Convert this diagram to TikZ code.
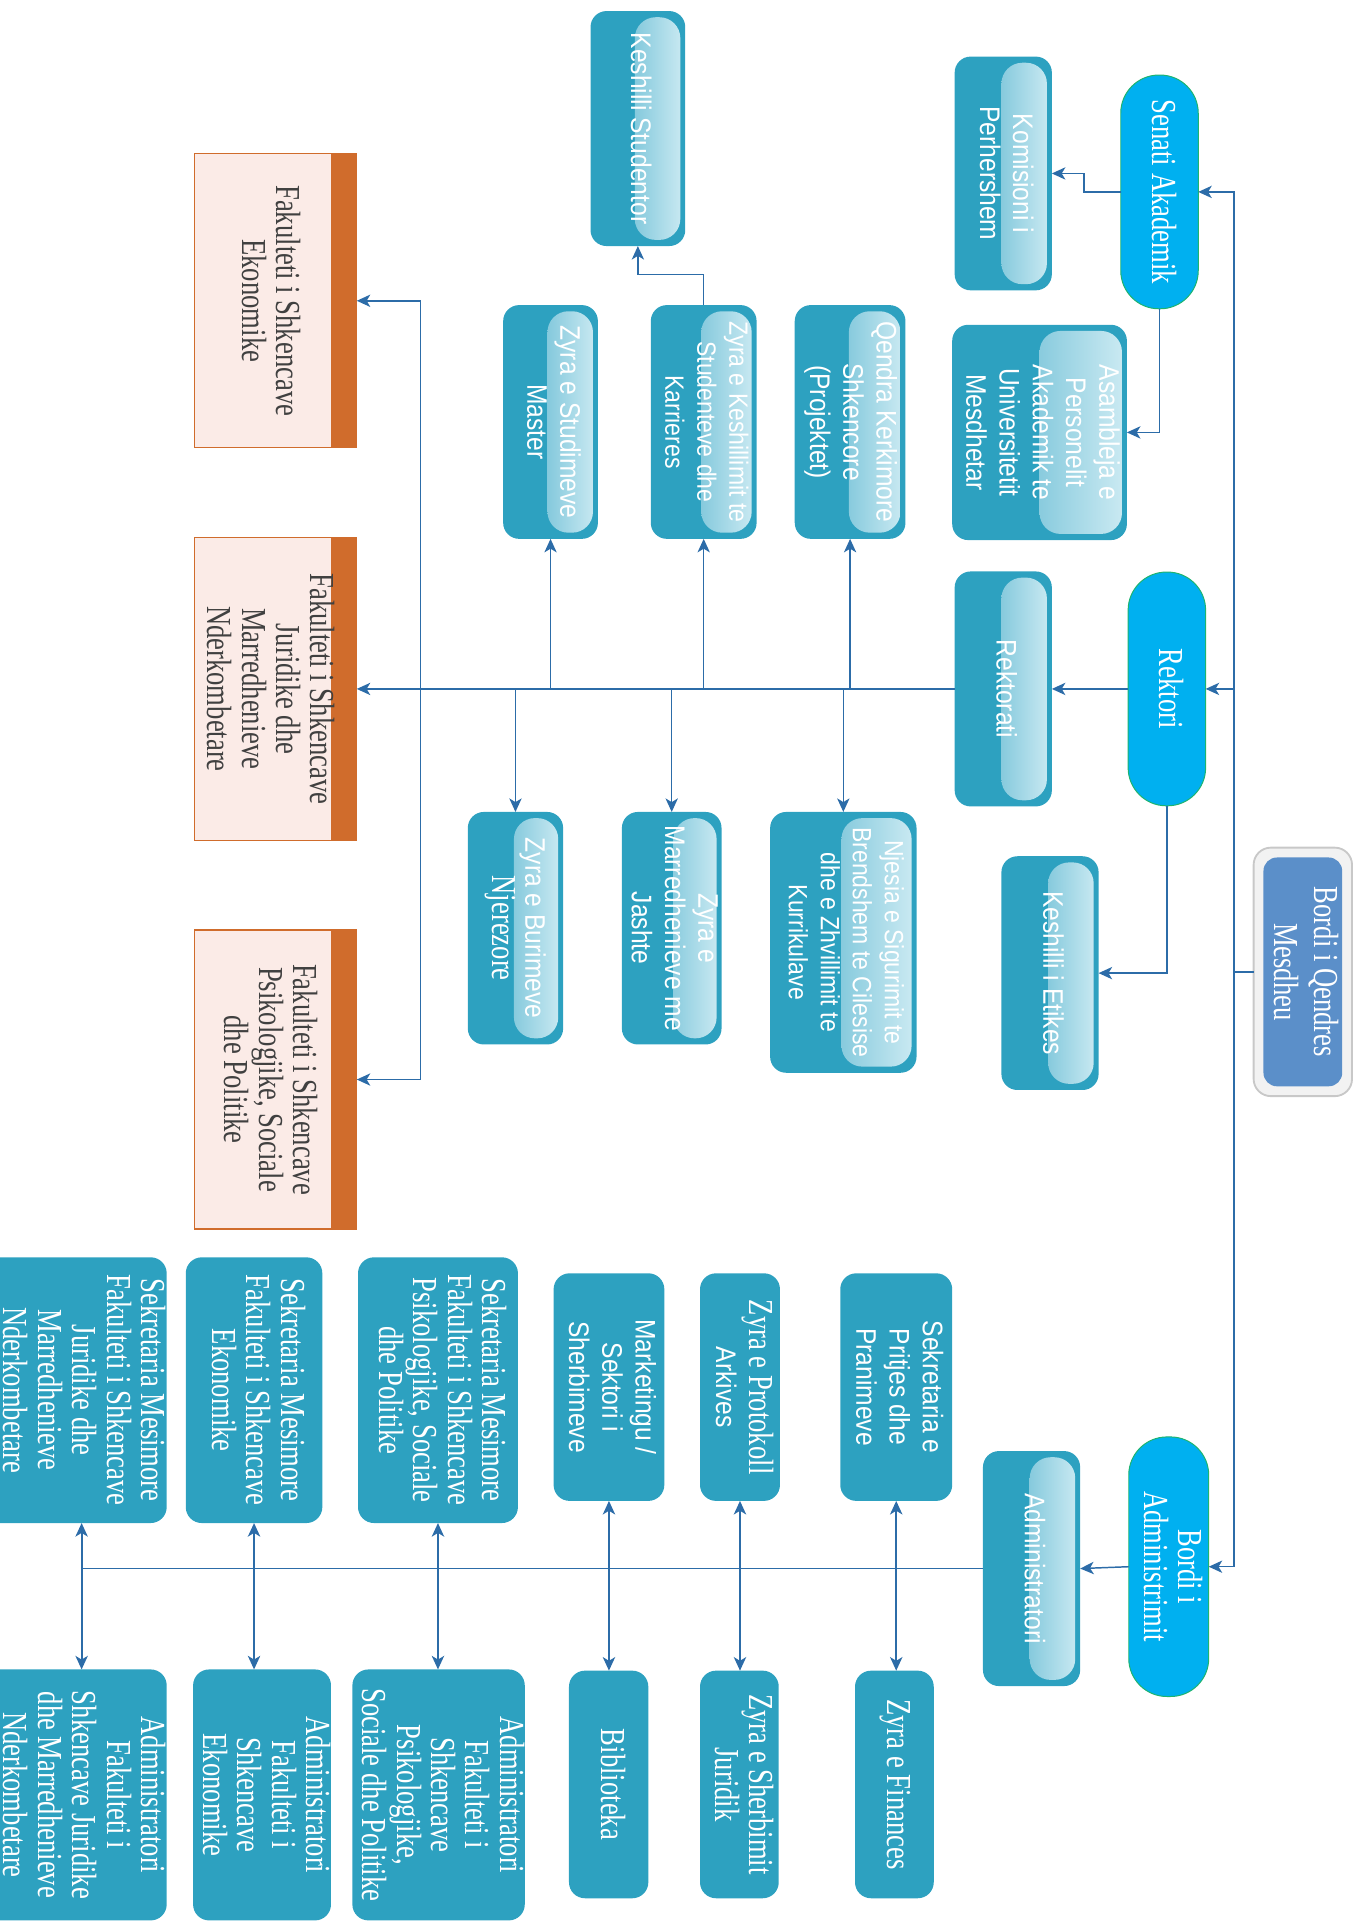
\documentclass[tikz,border=0pt]{standalone}
\usepackage{fontspec}
\usepackage{graphicx}
\usetikzlibrary{arrows.meta,calc}
\newfontfamily\serifc{Liberation Serif}[FakeStretch=0.76]
\newfontfamily\sansc{Liberation Sans}[FakeStretch=0.87]
\newcommand\sfnt{\sansc\fontsize{23}{27}\selectfont}
\newcommand\sfsm{\sansc\fontsize{21.5}{26}\selectfont}
\newcommand\rmfnt{\serifc\fontsize{28.5}{27.5}\selectfont}
\newcommand\vt[1]{\rotatebox{-90}{\begin{tabular}{@{}c@{}}#1\end{tabular}}}
\definecolor{teal1}{RGB}{45,161,192}
\definecolor{pillL}{RGB}{70,172,201}
\definecolor{pillR}{RGB}{205,235,243}
\definecolor{cyanp}{RGB}{0,176,240}
\definecolor{greenb}{RGB}{30,180,110}
\definecolor{conn}{RGB}{44,108,168}
\definecolor{pinkf}{RGB}{251,235,231}
\definecolor{orangeb}{RGB}{208,108,44}
\definecolor{txtgray}{RGB}{64,64,64}
\definecolor{bqblue}{RGB}{91,143,201}
\definecolor{bqgray}{RGB}{242,242,242}
\definecolor{bqline}{RGB}{200,200,200}
\tikzset{
  base/.style={inner sep=0pt, outer sep=0pt},
  sz/.style 2 args={minimum width=#1pt, minimum height=#2pt},
  tbox/.style={base, fill=teal1, rounded corners=13pt, text=white, font=\sfnt},
  rbox/.style={tbox, font=\rmfnt},
  pbox/.style={tbox, path picture={
      \shade[left color=pillL, right color=pillR, rounded corners=17pt]
        ([xshift={-(4+#1)*1pt}, yshift=-5pt]path picture bounding box.north east)
        rectangle ([xshift=-4pt, yshift=5pt]path picture bounding box.south east);}},
  cpill/.style={base, fill=cyanp, draw=greenb, line width=0.8pt, rounded corners=31pt,
      text=white, font=\rmfnt},
  bqbox/.style={base, fill=bqgray, draw=bqline, line width=1.5pt, rounded corners=14pt,
      text=white, font=\serifc\fontsize{28.5}{32.5}\selectfont,
      path picture={\fill[bqblue, rounded corners=11pt]
        ([shift={(8pt,-8pt)}]path picture bounding box.north west)
        rectangle ([shift={(-8pt,8pt)}]path picture bounding box.south east);}},
  facbox/.style={base, fill=pinkf, draw=orangeb, line width=1pt, text=txtgray, font=\rmfnt,
      path picture={\fill[orangeb]
        ([xshift=-21pt]path picture bounding box.north east)
        rectangle (path picture bounding box.south east);}},
  ln/.style={draw=conn, line width=1.1pt},
  arr/.style={draw=conn, line width=1.2pt, -{Stealth[length=11pt,width=10pt,inset=3pt]}},
  dbl/.style={draw=conn, line width=1.7pt,
      {Stealth[length=11pt,width=10pt,inset=3pt]}-{Stealth[length=11pt,width=10pt,inset=3pt]}}
}
\begin{document}
\begin{tikzpicture}[x=1pt, y=-1pt]
\useasboundingbox (0,0) rectangle (1103,1568);
\clip (0,0) rectangle (1103,1568);

% top level
\node[bqbox, sz={80}{202}] (bq) at (1059,790) {\vt{Bordi i Qendres\\Mesdheu}};
\node[cpill, sz={63}{190}] (senati) at (942.5,156) {\vt{Senati Akademik}};
\node[cpill, sz={63}{190}] (rektori) at (948.5,560) {\vt{Rektori}};
\node[cpill, sz={65}{211}] (bordiadm) at (950,1273.5) {\vt{Bordi i\\Administrimit}};

% senate branch
\node[pbox=37, sz={79}{190}] (komisioni) at (815.5,141) {\vt{Komisioni i\\Perhershem}};
\node[pbox=67, sz={142}{175}] (asambleja) at (845,351.5) {\vt{Asambleja e\\Personelit\\Akademik te\\Universitetit\\Mesdhetar}};

% rector branch
\node[pbox=37, sz={79}{191}] (rektorati) at (815.5,560) {\vt{Rektorati}};
\node[pbox=37, sz={79}{190}] (etikes) at (853.5,791) {\vt{Keshilli i Etikes}};
\node[pbox=37, sz={77}{191}] (studentor) at (518.5,104.5) {\vt{Keshilli Studentor}};
\node[pbox=37, sz={77}{190}] (master) at (447.5,343) {\vt{Zyra e Studimeve\\Master}};
\node[pbox=41, sz={86}{190}, font=\sfsm] (keshillimit) at (572,343) {\vt{Zyra e Keshillimit te\\Studenteve dhe\\Karrieres}};
\node[pbox=42, sz={90}{190}] (qendra) at (691,343) {\vt{Qendra Kerkimore\\Shkencore\\(Projektet)}};
\node[pbox=36, sz={77.5}{189}] (burimeve) at (419,754.5) {\vt{Zyra e Burimeve\\{\rmfnt Njerezore}}};
\node[pbox=35, sz={78}{189}] (marredh) at (546,754.5) {\vt{Zyra e\\Marredhenieve me\\Jashte}};
\node[pbox=57, sz={119}{212}, font=\sfsm] (njesia) at (685.5,766) {\vt{Njesia e Sigurimit te\\Brendshem te Cilesise\\dhe e Zhvillimit te\\Kurrikulave}};

% faculties
\node[facbox, sz={132}{239}] (fakeko) at (224,244.5) {\vt{Fakulteti i Shkencave\\Ekonomike}\rule{15pt}{0pt}};
\node[facbox, sz={132}{246}] (fakjur) at (224,560) {\vt{Fakulteti i Shkencave\\Juridike dhe\\Marredhenieve\\Nderkombetare}\rule{15pt}{0pt}};
\node[facbox, sz={132}{243}] (fakpsi) at (224,877.5) {\vt{Fakulteti i Shkencave\\Psikologjike, Sociale\\dhe Politike}\rule{15pt}{0pt}};

% administration branch
\node[pbox=37, sz={79}{191}] (administratori) at (838.5,1275) {\vt{Administratori}};
\node[tbox, sz={91}{185}] (sekpritjes) at (728.5,1127.5) {\vt{Sekretaria e\\Pritjes dhe\\Pranimeve}};
\node[tbox, sz={65}{185}] (protokoll) at (601.5,1127.5) {\vt{{\rmfnt Zyra e Protokoll}\\Arkives}};
\node[tbox, sz={90}{185}] (marketingu) at (495,1127.5) {\vt{Marketingu /\\Sektori i\\Sherbimeve}};
\node[rbox, sz={130}{216}] (sekmespsi) at (356,1130) {\vt{Sekretaria Mesimore\\Fakulteti i Shkencave\\Psikologjike, Sociale\\dhe Politike}};
\node[rbox, sz={111}{216}] (sekmeseko) at (206.5,1130) {\vt{Sekretaria Mesimore\\Fakulteti i Shkencave\\Ekonomike}};
\node[rbox, sz={149.5}{216}] (sekmesjur) at (60.75,1130) {\hspace{8pt}\vt{Sekretaria Mesimore\\Fakulteti i Shkencave\\Juridike dhe\\Marredhenieve\\Nderkombetare}};
\node[rbox, sz={64}{185}] (finances) at (727,1450.5) {\vt{Zyra e Finances}};
\node[rbox, sz={64}{185}] (juridik) at (601,1450.5) {\vt{Zyra e Sherbimit\\Juridik}};
\node[rbox, sz={64.5}{185}] (biblioteka) at (494.75,1450.5) {\vt{Biblioteka}};
\node[rbox, sz={129}{204}] (adminpsi) at (356.5,1459) {\vt{Administratori\\Fakulteti i\\Shkencave\\Psikologjike,\\Sociale dhe Politike}};
\node[rbox, sz={112}{204}] (admineko) at (213,1459) {\vt{Administratori\\Fakulteti i\\Shkencave\\Ekonomike}};
\node[rbox, sz={149.5}{204}] (adminjur) at (60.75,1459) {\hspace{8pt}\vt{Administratori\\Fakulteti i\\Shkencave Juridike\\dhe Marredhenieve\\Nderkombetare}};

% connectors: trunk
\coordinate (trk) at (1003,0);
\draw[ln] (bq.west) -- (bq.west -| trk);
\draw[arr] (bq.west -| trk) |- (senati.east);
\draw[arr] (bq.west -| trk) |- (rektori.east);
\draw[arr] (bq.west -| trk) |- (bordiadm.east);

% senate
\draw[arr] (senati.west) -- ++(-30,0) |- (komisioni.east);
\draw[arr] (senati.south) |- (asambleja.east);

% rector
\draw[arr] (rektori.west) -- (rektorati.east);
\draw[arr] (rektori.south) |- (etikes.east);
\draw[arr] (rektorati.west) -- (fakjur.east);
\coordinate (fb) at (342,560);
\draw[arr] (fb) |- (fakeko.east);
\draw[arr] (fb) |- (fakpsi.east);
\draw[arr] (master.south |- rektorati.west) -- (master.south);
\draw[arr] (keshillimit.south |- rektorati.west) -- (keshillimit.south);
\draw[arr] (qendra.south |- rektorati.west) -- (qendra.south);
\draw[arr] (burimeve.north |- rektorati.west) -- (burimeve.north);
\draw[arr] (marredh.north |- rektorati.west) -- (marredh.north);
\draw[arr] (njesia.north |- rektorati.west) -- (njesia.north);
\draw[arr] (keshillimit.north) -- ++(0,-25) -| (studentor.south);

% administration
\draw[arr] (bordiadm.west) -- (administratori.east);
\coordinate (jx) at ([xshift=5.6pt]sekmesjur.south);
\draw[ln] (administratori.west) -- (administratori.west -| jx);
\draw[dbl] (sekpritjes.south) -- (sekpritjes.south |- finances.north);
\draw[dbl] (protokoll.south) -- (protokoll.south |- juridik.north);
\draw[dbl] (marketingu.south) -- (marketingu.south |- biblioteka.north);
\draw[dbl] (sekmespsi.south) -- (sekmespsi.south |- adminpsi.north);
\draw[dbl] (sekmeseko.south) -- (sekmeseko.south |- admineko.north);
\draw[dbl] (jx) -- (jx |- adminjur.north);
\end{tikzpicture}
\end{document}
